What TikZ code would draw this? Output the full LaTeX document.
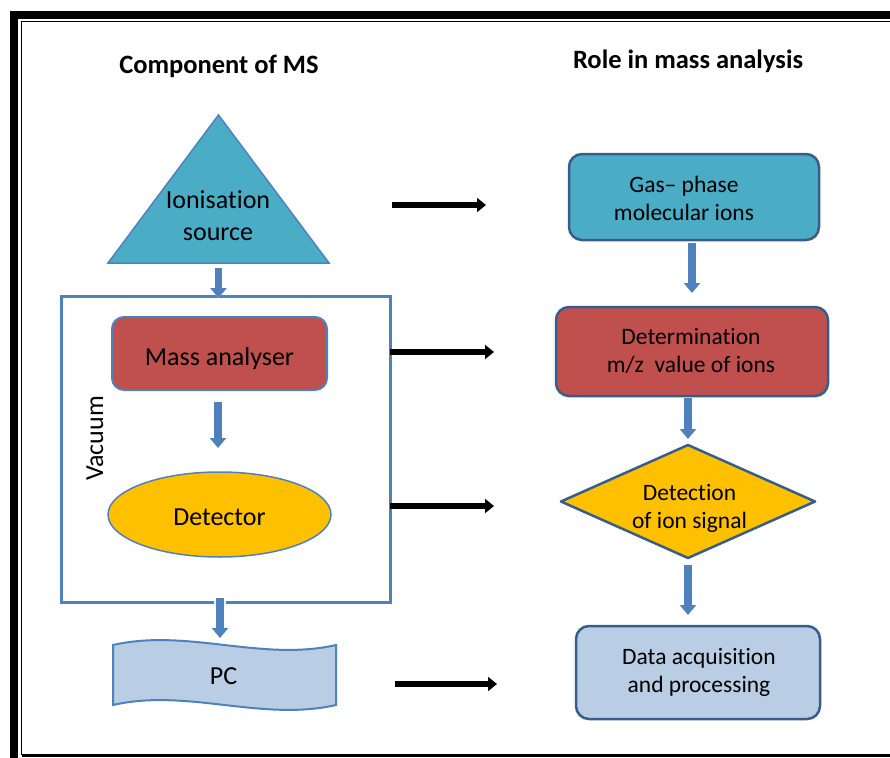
\documentclass[tikz,border=0pt]{standalone}
\usepackage{fontspec}
\setmainfont{Carlito}[Ligatures=NoCommon]
\usetikzlibrary{arrows.meta,shapes.geometric}
\definecolor{teal1}{HTML}{4BACC6}
\definecolor{red1}{HTML}{C0504D}
\definecolor{gold1}{HTML}{FFC000}
\definecolor{lblue}{HTML}{B9CDE5}
\definecolor{mblue}{HTML}{4F81BD}
\definecolor{dblue}{HTML}{385D8A}
\begin{document}
\begin{tikzpicture}[x=1bp,y=-1bp,
  lefttxt/.style={font=\fontsize{26bp}{32bp}\selectfont, align=center, inner sep=0},
  righttxt/.style={font=\fontsize{23.5bp}{28bp}\selectfont, align=center, inner sep=0},
  titletxt/.style={font=\fontsize{26.5bp}{32bp}\selectfont\bfseries, inner sep=0, anchor=base},
  ghost/.style={inner sep=0, outer sep=0, draw=none},
  barrow/.style={draw=mblue, line width=7.5bp, -{Triangle[width=16bp,length=10bp]}},
  wbarrow/.style={draw=white, line width=12bp, -{Triangle[width=22bp,length=13bp]}},
  karrow/.style={draw=black, line width=5.5bp, -{Triangle[width=14bp,length=9bp]}},
  rbox/.style={rounded corners=13bp, draw=dblue, line width=2.5bp, inner sep=0, outer sep=0},
]
\useasboundingbox (0,0) rectangle (890,758);
% frame
\fill[black] (10,11) rectangle (18,758);
\fill[black] (10,11) rectangle (890,19);
\draw[line width=1.2bp] (21.5,755) -- (21.5,21.5) -- (890,21.5);
\draw[line width=3bp] (21.5,755.5) -- (890,755.5);

% titles
\node[titletxt] (t1) at (219,74) {Component of MS};
\node[titletxt] (t2) at (688,69) {Role in mass analysis};

% left column
\node[ghost, minimum width=221bp, minimum height=148bp] (ion) at (218.5,189) {};
\draw[fill=teal1, draw=mblue, line width=1.5bp] (ion.north) -- (ion.south east) -- (ion.south west) -- cycle;
\node[lefttxt] (iontxt) at (218,215.5) {Ionisation\\source};

\node[draw=mblue, line width=3bp, minimum width=328bp, minimum height=306bp, inner sep=0, outer sep=0] (vac) at (226,449) {};
\node[lefttxt, rotate=90, anchor=base] (vactxt) at (103,438.5) {Vacuum};

\node[rounded corners=12bp, draw=mblue, line width=2bp, fill=red1, minimum width=215bp, minimum height=73bp, inner sep=0, outer sep=0] (mass) at (219.5,353.5) {};
\node[lefttxt, anchor=base] (masstxt) at (219.5,365) {Mass analyser};

\node[ellipse, draw=mblue, line width=1.5bp, fill=gold1, minimum width=223bp, minimum height=85bp, inner sep=0, outer sep=0] (detc) at (219.5,514.5) {};
\node[lefttxt, anchor=base] (detctxt) at (219.5,525) {Detector};

\node[ghost, minimum width=223bp, minimum height=60bp] (pc) at (224.5,675) {};
\draw[fill=lblue, draw=mblue, line width=2bp]
  (113,645) .. controls (187.3,628) and (261.7,662) .. (336,645)
  -- (336,705) .. controls (261.7,722) and (187.3,688) .. (113,705) -- cycle;
\node[lefttxt, anchor=base] (pctxt) at (223.5,684) {PC};

% right column
\node[rbox, fill=teal1, minimum width=250bp, minimum height=86bp] (gas) at (694,197) {};
\node[righttxt] (gastxt) at (684,198) {Gas– phase\\molecular ions};

\node[rbox, fill=red1, minimum width=272bp, minimum height=89bp] (det) at (692,351.5) {};
\node[righttxt] (dettxt) at (691,350.5) {Determination\\m/z~~value of ions};

\node[ghost, minimum width=254bp, minimum height=113bp] (diam) at (688,501.5) {};
\draw[fill=gold1, draw=dblue, line width=2.5bp, line join=round] (diam.north) -- (diam.east) -- (diam.south) -- (diam.west) -- cycle;
\node[righttxt] (diamtxt) at (689.5,508) {Detection\\of ion signal};

\node[rbox, fill=lblue, minimum width=244bp, minimum height=93bp] (data) at (698,672.5) {};
\node[righttxt] (datatxt) at (699,672.5) {Data acquisition\\and processing};

% blue arrows, left
\draw[wbarrow, shorten <=5bp, shorten >=-2bp] (ion.south) -- (ion.south |- vac.north);
\draw[barrow, shorten <=5bp, shorten >=-2bp] (ion.south) -- (ion.south |- vac.north);
\draw[barrow, shorten <=12bp, shorten >=24bp] ([xshift=-1.5bp]mass.south) -- ([xshift=-1.5bp]mass.south |- detc.north);
\draw[wbarrow, shorten <=-4bp, shorten >=7bp] ([xshift=-6bp]vac.south) -- ([xshift=-6bp]vac.south |- pc.north);
\draw[barrow, shorten <=-4bp, shorten >=7bp] ([xshift=-6bp]vac.south) -- ([xshift=-6bp]vac.south |- pc.north);

% blue arrows, right
\draw[barrow, shorten <=3bp, shorten >=14bp] ([xshift=-2bp]gas.south) -- ([xshift=-2bp]gas.south |- det.north);
\draw[barrow, shorten <=2bp, shorten >=6bp] (det.south -| diam.north) -- (diam.north);
\draw[barrow, shorten <=7bp, shorten >=11bp] (diam.south) -- (diam.south |- data.north);

% black arrows
\coordinate (s1) at (392,205);
\coordinate (s2) at (390,352);
\coordinate (s3) at (390,506);
\coordinate (s4) at (395,684);
\draw[karrow, shorten >=83bp] (s1) -- (s1 -| gas.west);
\draw[karrow, shorten >=62bp] (s2) -- (s2 -| det.west);
\draw[karrow, shorten >=67bp] (s3) -- (s3 -| diam.west);
\draw[karrow, shorten >=79bp] (s4) -- (s4 -| data.west);
\end{tikzpicture}
\end{document}
